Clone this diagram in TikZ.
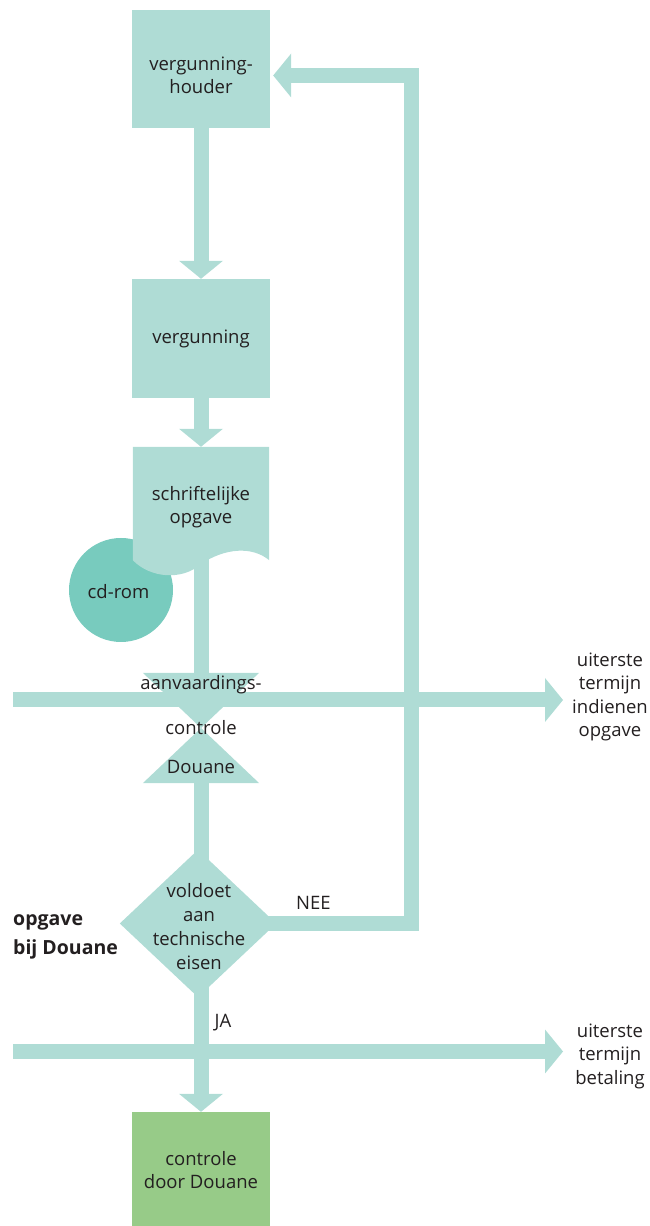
\documentclass[tikz,border=0pt]{standalone}
\usepackage{fontspec}
\setmainfont{Open Sans}
\usetikzlibrary{arrows.meta,shapes.geometric}
\definecolor{teal1}{HTML}{AFDCD5}
\definecolor{teal2}{HTML}{78CBBE}
\definecolor{green1}{HTML}{97CB88}
\definecolor{ink}{HTML}{231F20}
\pgfdeclarelayer{bg}
\pgfsetlayers{bg,main}
\newcommand{\txtfont}{\fontsize{18.5}{23.5}\selectfont}
\begin{document}
\begin{tikzpicture}[x=1pt,y=1pt,
  txt/.style={text=ink, font=\txtfont, align=center, inner sep=0pt},
  box/.style={fill=teal1, minimum width=138pt, minimum height=118pt, inner sep=0pt},
  flow/.style={draw=teal1, line width=15pt},
  flowarrow/.style={flow, -{Triangle[width=44pt,length=18pt,line width=0pt]}},
]
\useasboundingbox (0,0) rectangle (649,1226);

% boxes
\node[box] (vh) at (201,1157) {};
\node[txt] (vht) at (201,1150.5) {vergunning-\\houder};
\node[box, minimum height=119pt] (verg) at (201,887.5) {};
\node[txt] (vergt) at (201,887.5) {vergunning};

% cd-rom and document
\node[circle, fill=teal2, minimum size=104pt, inner sep=0pt] (cd) at (121,636) {};
\node[txt] (cdt) at (118.5,634) {cd-rom};
\node[minimum width=136pt, minimum height=113pt, inner sep=0pt] (doc) at (201,722.5) {};
\fill[teal1] (doc.north west) -- (doc.north east) -- (doc.south east)
  .. controls (252,680) and (225,678) .. (201,662)
  .. controls (182,645) and (150,648) .. (doc.south west) -- cycle;
\node[txt] (doct) at (201,719) {schriftelijke\\opgave};

% acceptance control (hourglass)
\node[minimum width=116pt, minimum height=110pt, inner sep=0pt] (acc) at (201,498) {};
\fill[teal1] (acc.north west) -- (acc.north east) -- (acc.center) -- cycle;
\fill[teal1] (acc.south west) -- (acc.south east) -- (acc.center) -- cycle;

% decision
\node[minimum width=156pt, minimum height=147pt, inner sep=0pt] (dec) at (198,302.5) {};
\fill[teal1] (dec.north) -- (dec.east) -- (dec.south) -- (dec.west) -- cycle;

% final box
\node[box, fill=green1, minimum height=114pt] (ctrl) at (201,57) {};

% coordinates
\coordinate (h1s) at (13,526);
\coordinate (h1e) at (563,526);
\coordinate (h2s) at (13,174.5);
\coordinate (h2e) at (563,174.5);
\coordinate (ret) at (411,1150.5);

\begin{pgfonlayer}{bg}
\draw[flowarrow] (vh.south) -- (verg.north);
\draw[flowarrow] (verg.south) -- (doc.north);
\draw[flow] ([yshift=20pt]doc.south) -- (acc.north);
\draw[flow] (acc.south) -- (acc.south |- dec.center);
\draw[flowarrow] (acc.south |- dec.center) -- (ctrl.north);
\draw[flowarrow] (dec.center) -| (ret) -- ([xshift=3pt]vh.east |- ret);
\draw[flowarrow] (h1s) -- (h1e);
\draw[flowarrow] (h2s) -- (h2e);
\end{pgfonlayer}

% texts
\node[txt] (acc1) at (201,541) {aanvaardings-};
\node[txt] (acc2) at (201,498) {controle};
\node[txt] (acc3) at (201,459) {Douane};
\node[txt, font=\fontsize{18.5}{24}\selectfont] (dect) at (199,299) {voldoet\\aan\\technische\\eisen};
\node[txt] (ctrlt) at (201,56) {controle\\door Douane};
\node[txt] (nee) at (313.5,323) {NEE};
\node[txt] (ja) at (223,203) {JA};
\node[txt, font=\fontsize{19.5}{28.3}\selectfont\bfseries, align=left, anchor=west] (opg) at (13,289) {opgave\\bij Douane};
\node[txt] (t1) at (610,529) {uiterste\\termijn\\indienen\\opgave};
\node[txt] (t2) at (610,170) {uiterste\\termijn\\betaling};
\end{tikzpicture}
\end{document}
